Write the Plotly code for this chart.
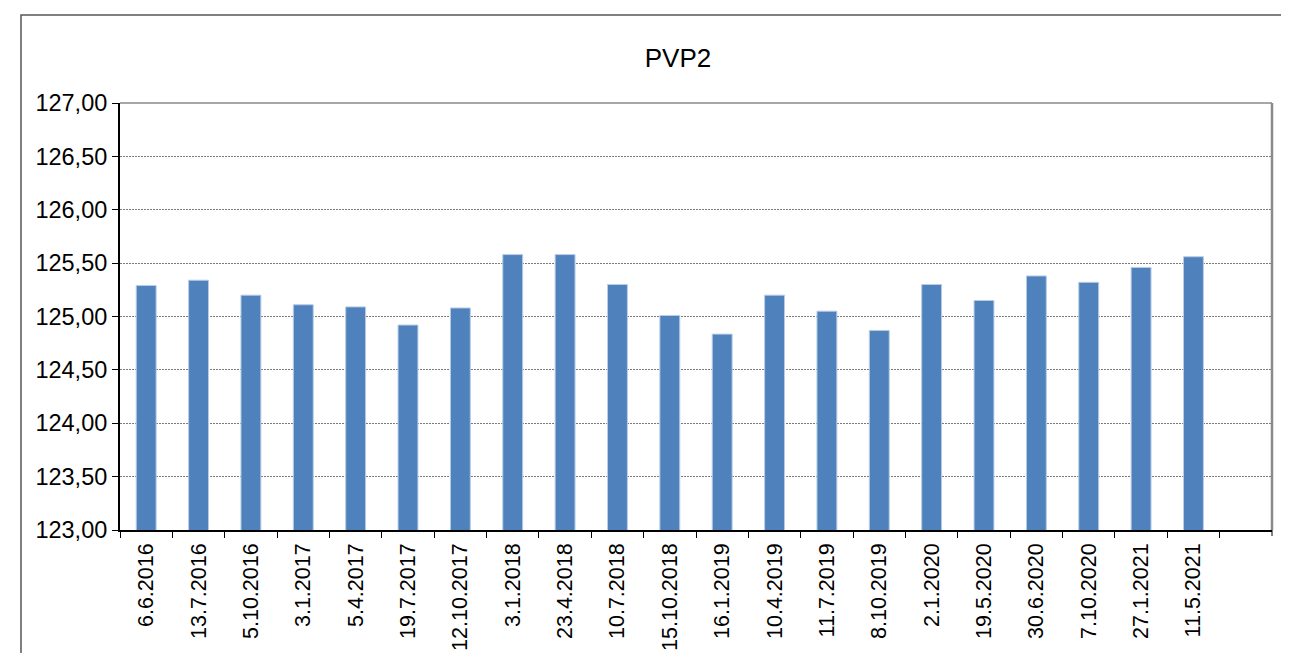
import plotly.graph_objects as go

dates = ["6.6.2016", "13.7.2016", "5.10.2016", "3.1.2017", "5.4.2017", "19.7.2017",
         "12.10.2017", "3.1.2018", "23.4.2018", "10.7.2018", "15.10.2018", "16.1.2019",
         "10.4.2019", "11.7.2019", "8.10.2019", "2.1.2020", "19.5.2020", "30.6.2020",
         "7.10.2020", "27.1.2021", "11.5.2021"]
values = [125.29, 125.34, 125.20, 125.11, 125.09, 124.92,
          125.08, 125.58, 125.58, 125.30, 125.01, 124.835,
          125.20, 125.05, 124.87, 125.30, 125.15, 125.38,
          125.32, 125.46, 125.56]
y_ticks = [123.0, 123.5, 124.0, 124.5, 125.0, 125.5, 126.0, 126.5, 127.0]
title_text = "PVP2"

FONT = "Liberation Sans, Arial, sans-serif"
OFF = 8  # default page body margin

W, H = 1289 - OFF, 653 - OFF

fig = go.Figure()
fig.add_trace(go.Bar(
    x=dates, y=values,
    marker=dict(color="#4F81BD", line=dict(color="#B9CDE5", width=1)),
    width=0.38,
))

fig.update_layout(
    width=W, height=H,
    margin=dict(l=120 - OFF, r=17, t=103 - OFF, b=123, autoexpand=False),
    paper_bgcolor="white", plot_bgcolor="white",
    separators=", ",
    showlegend=False,
    title=dict(text=title_text, x=(678 - OFF) / W, xref="container", xanchor="center",
               y=1 - (58 - OFF) / H, yref="container", yanchor="middle",
               font=dict(family=FONT, size=26, color="black")),
    font=dict(family=FONT, color="black"),
)

fig.update_xaxes(
    type="category", range=[-0.5, 21.5], automargin=False,
    tickson="boundaries", ticks="outside", ticklen=6, tickcolor="black", tickwidth=1,
    tickangle=-90, tickfont=dict(family=FONT, size=21.5, color="black"),
    ticklabelstandoff=3,
    showline=True, linecolor="black", linewidth=1.5,
    showgrid=False, zeroline=False,
)
fig.update_yaxes(
    range=[123, 127], tickvals=y_ticks, tickformat=".2f", automargin=False,
    ticks="outside", ticklen=6, tickcolor="black", tickwidth=1,
    tickfont=dict(family=FONT, size=23.5, color="black"),
    showline=True, linecolor="black", linewidth=2,
    showgrid=True, gridcolor="#7a7a7a", gridwidth=1, griddash="2px,1px",
    zeroline=False,
)

# plot-area top and right border (grey)
fig.add_shape(type="line", xref="paper", yref="paper", x0=0, x1=1, y0=1, y1=1,
              line=dict(color="#8a8a8a", width=1.5))
fig.add_shape(type="line", xref="paper", yref="paper", x0=1, x1=1, y0=0, y1=1,
              line=dict(color="#8a8a8a", width=2.5))
# tick at right end of x axis
fig.add_shape(type="line", xref="paper", yref="paper", x0=1, x1=1, y0=0, y1=-6/427,
              line=dict(color="black", width=1))
# outer chart frame
fig.add_shape(type="rect", xref="paper", yref="paper",
              x0=(21 - 120) / 1152, x1=1.2, y0=-0.5, y1=(530 - 15) / 427,
              line=dict(color="#555555", width=1.5), fillcolor="rgba(0,0,0,0)")

fig.write_html("out.html")
